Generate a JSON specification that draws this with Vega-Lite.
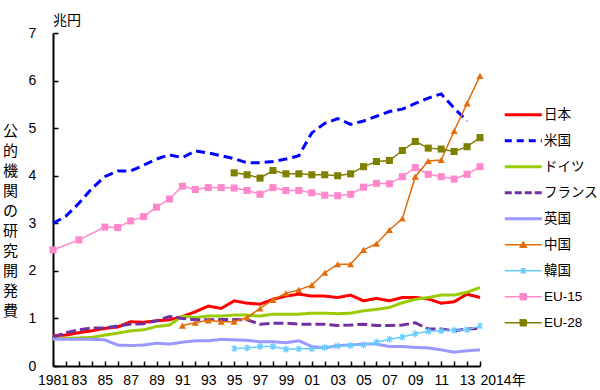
{
  "$schema": "https://vega.github.io/schema/vega-lite/v6.json",
  "width": 427,
  "height": 333,
  "autosize": {"type": "none"},
  "padding": {"left": 53, "top": 33, "right": 120, "bottom": 24},
  "background": "white",
  "config": {"view": {"stroke": null}, "font": "Liberation Sans, Noto Sans CJK JP"},
  "title": {"text": "兆円", "anchor": "start", "frame": "group", "fontSize": 14, "fontWeight": "normal", "font": "Noto Sans CJK JP", "color": "black", "offset": -2},
  "data": {"values": [
    {"year": 1981, "日本": 0.64, "米国": 3.00, "ドイツ": 0.58, "フランス": 0.60, "英国": 0.56, "EU-15": 2.44},
    {"year": 1982, "日本": 0.65, "米国": 3.15, "ドイツ": 0.58, "フランス": 0.70, "英国": 0.56},
    {"year": 1983, "日本": 0.70, "米国": 3.42, "ドイツ": 0.59, "フランス": 0.76, "英国": 0.56, "EU-15": 2.65},
    {"year": 1984, "日本": 0.74, "米国": 3.73, "ドイツ": 0.60, "フランス": 0.80, "英国": 0.56},
    {"year": 1985, "日本": 0.79, "米国": 3.98, "ドイツ": 0.65, "フランス": 0.80, "英国": 0.55, "EU-15": 2.92},
    {"year": 1986, "日本": 0.82, "米国": 4.10, "ドイツ": 0.69, "フランス": 0.84, "英国": 0.44, "EU-15": 2.91},
    {"year": 1987, "日本": 0.93, "米国": 4.10, "ドイツ": 0.74, "フランス": 0.88, "英国": 0.43, "EU-15": 3.05},
    {"year": 1988, "日本": 0.92, "米国": 4.22, "ドイツ": 0.76, "フランス": 0.89, "英国": 0.44, "EU-15": 3.14},
    {"year": 1989, "日本": 0.95, "米国": 4.35, "ドイツ": 0.83, "フランス": 0.95, "英国": 0.48, "EU-15": 3.34},
    {"year": 1990, "日本": 0.97, "米国": 4.44, "ドイツ": 0.86, "フランス": 1.04, "英国": 0.46, "EU-15": 3.51},
    {"year": 1991, "日本": 1.04, "米国": 4.38, "ドイツ": 1.05, "フランス": 1.00, "英国": 0.50, "中国": 0.85, "EU-15": 3.78},
    {"year": 1992, "日本": 1.14, "米国": 4.52, "ドイツ": 1.02, "フランス": 0.97, "英国": 0.53, "中国": 0.91, "EU-15": 3.71},
    {"year": 1993, "日本": 1.26, "米国": 4.48, "ドイツ": 1.05, "フランス": 0.97, "英国": 0.53, "中国": 0.96, "EU-15": 3.75},
    {"year": 1994, "日本": 1.21, "米国": 4.42, "ドイツ": 1.05, "フランス": 0.98, "英国": 0.56, "中国": 0.93, "EU-15": 3.75},
    {"year": 1995, "日本": 1.37, "米国": 4.36, "ドイツ": 1.07, "フランス": 0.98, "英国": 0.55, "中国": 0.93, "韓国": 0.37, "EU-15": 3.74, "EU-28": 4.06},
    {"year": 1996, "日本": 1.32, "米国": 4.27, "ドイツ": 1.07, "フランス": 0.97, "英国": 0.54, "中国": 1.02, "韓国": 0.38, "EU-15": 3.69, "EU-28": 4.02},
    {"year": 1997, "日本": 1.30, "米国": 4.27, "ドイツ": 1.05, "フランス": 0.88, "英国": 0.51, "中国": 1.21, "韓国": 0.41, "EU-15": 3.61, "EU-28": 3.95},
    {"year": 1998, "日本": 1.40, "米国": 4.30, "ドイツ": 1.09, "フランス": 0.90, "英国": 0.51, "中国": 1.39, "韓国": 0.41, "EU-15": 3.75, "EU-28": 4.11},
    {"year": 1999, "日本": 1.47, "米国": 4.35, "ドイツ": 1.09, "フランス": 0.90, "英国": 0.49, "中国": 1.53, "韓国": 0.35, "EU-15": 3.69, "EU-28": 4.04},
    {"year": 2000, "日本": 1.51, "米国": 4.42, "ドイツ": 1.09, "フランス": 0.88, "英国": 0.53, "中国": 1.60, "韓国": 0.36, "EU-15": 3.69, "EU-28": 4.04},
    {"year": 2001, "日本": 1.47, "米国": 4.90, "ドイツ": 1.11, "フランス": 0.88, "英国": 0.41, "中国": 1.70, "韓国": 0.36, "EU-15": 3.64, "EU-28": 4.02},
    {"year": 2002, "日本": 1.47, "米国": 5.10, "ドイツ": 1.11, "フランス": 0.88, "英国": 0.38, "中国": 1.96, "韓国": 0.39, "EU-15": 3.59, "EU-28": 4.02},
    {"year": 2003, "日本": 1.44, "米国": 5.20, "ドイツ": 1.10, "フランス": 0.85, "英国": 0.43, "中国": 2.14, "韓国": 0.42, "EU-15": 3.58, "EU-28": 4.00},
    {"year": 2004, "日本": 1.49, "米国": 5.08, "ドイツ": 1.11, "フランス": 0.86, "英国": 0.44, "中国": 2.14, "韓国": 0.43, "EU-15": 3.61, "EU-28": 4.04},
    {"year": 2005, "日本": 1.37, "米国": 5.15, "ドイツ": 1.16, "フランス": 0.88, "英国": 0.46, "中国": 2.44, "韓国": 0.44, "EU-15": 3.76, "EU-28": 4.19},
    {"year": 2006, "日本": 1.42, "米国": 5.25, "ドイツ": 1.19, "フランス": 0.85, "英国": 0.46, "中国": 2.57, "韓国": 0.50, "EU-15": 3.84, "EU-28": 4.30},
    {"year": 2007, "日本": 1.37, "米国": 5.35, "ドイツ": 1.23, "フランス": 0.85, "英国": 0.41, "中国": 2.86, "韓国": 0.56, "EU-15": 3.83, "EU-28": 4.32},
    {"year": 2008, "日本": 1.44, "米国": 5.40, "ドイツ": 1.33, "フランス": 0.86, "英国": 0.41, "中国": 3.10, "韓国": 0.61, "EU-15": 3.98, "EU-28": 4.53},
    {"year": 2009, "日本": 1.44, "米国": 5.52, "ドイツ": 1.40, "フランス": 0.91, "英国": 0.39, "中国": 3.98, "韓国": 0.68, "EU-15": 4.17, "EU-28": 4.72},
    {"year": 2010, "日本": 1.41, "米国": 5.63, "ドイツ": 1.44, "フランス": 0.78, "英国": 0.38, "中国": 4.31, "韓国": 0.73, "EU-15": 4.03, "EU-28": 4.58},
    {"year": 2011, "日本": 1.32, "米国": 5.72, "ドイツ": 1.49, "フランス": 0.78, "英国": 0.34, "中国": 4.33, "韓国": 0.74, "EU-15": 3.98, "EU-28": 4.56},
    {"year": 2012, "日本": 1.35, "米国": 5.42, "ドイツ": 1.49, "フランス": 0.74, "英国": 0.29, "中国": 4.94, "韓国": 0.75, "EU-15": 3.93, "EU-28": 4.51},
    {"year": 2013, "日本": 1.51, "米国": 5.15, "ドイツ": 1.55, "フランス": 0.78, "英国": 0.32, "中国": 5.52, "韓国": 0.76, "EU-15": 4.03, "EU-28": 4.61},
    {"year": 2014, "日本": 1.44, "ドイツ": 1.65, "フランス": 0.79, "英国": 0.34, "中国": 6.10, "韓国": 0.84, "EU-15": 4.19, "EU-28": 4.80}
  ]},
  "transform": [
    {"fold": ["日本", "米国", "ドイツ", "フランス", "英国", "中国", "韓国", "EU-15", "EU-28"], "as": ["series", "value"]},
    {"filter": "isValid(datum.value)"}
  ],
  "encoding": {
    "x": {"field": "year", "type": "quantitative",
      "scale": {"domain": [1981, 2014], "nice": false, "zero": false},
      "axis": {"title": null, "values": [1981,1982,1983,1984,1985,1986,1987,1988,1989,1990,1991,1992,1993,1994,1995,1996,1997,1998,1999,2000,2001,2002,2003,2004,2005,2006,2007,2008,2009,2010,2011,2012,2013,2014],
        "labelExpr": "datum.value == 2014 ? '2014年' : datum.value == 1981 ? '1981' : (datum.value % 2 == 1 ? substring(toString(datum.value), 2, 4) : '')",
        "labelAlign": {"condition": {"test": "datum.value == 2014", "value": "left"}, "value": "center"},
        "labelOverlap": false, "labelBound": false, "labelFlush": false,
        "labelFontSize": 14, "labelColor": "black", "labelPadding": 12,
        "tickSize": -5, "tickColor": "black", "tickWidth": 1.5,
        "domainColor": "black", "domainWidth": 2, "grid": false}},
    "y": {"field": "value", "type": "quantitative",
      "scale": {"domain": [0, 7], "nice": false},
      "axis": {"values": [0,1,2,3,4,5,6,7], "grid": false,
        "labelFontSize": 14, "labelColor": "black", "labelPadding": 26, "labelAlign": "center",
        "tickSize": -5, "tickColor": "black", "tickWidth": 1.5,
        "domainColor": "black", "domainWidth": 2,
        "title": ["公","的","機","関","の","研","究","開","発","費"],
        "titleAngle": 0, "titleFont": "Noto Sans CJK JP", "titleFontSize": 15, "titleFontWeight": "normal",
        "titleColor": "black", "titleLineHeight": 20, "titleBaseline": "top", "titleAlign": "center",
        "titleX": -43, "titleY": 90}},
    "color": {"field": "series", "type": "nominal",
      "scale": {"domain": ["日本", "米国", "ドイツ", "フランス", "英国", "中国", "韓国", "EU-15", "EU-28"],
        "range": ["#ff0000", "#0000ff", "#99cc00", "#7030a0", "#9999ff", "#e46c0a", "#66ccff", "#ff88cc", "#808000"]},
      "legend": {"orient": "none", "legendX": 450, "legendY": 75, "title": null,
        "labelFont": "Liberation Sans, Noto Sans CJK JP", "labelFontSize": 13.5, "labelColor": "black",
        "symbolSize": 100, "symbolOffset": 13.5, "labelOffset": 14, "rowPadding": 11,
        "encode": {"symbols": {"update": {
          "shape": {"signal": "datum.value === '中国' ? 'M-3.7,0H3.7M-0.6,0.5L0,-0.55L0.6,0.5Z' : datum.value === '韓国' ? 'M-3.7,0H3.7M-0.5,-0.5L0.5,0.5M-0.5,0.5L0.5,-0.5M0,-0.6V0.6' : (datum.value === 'EU-15' || datum.value === 'EU-28') ? 'M-3.7,0H3.7M-0.6,-0.6H0.6V0.6H-0.6Z' : 'M-3.7,0H3.7'"},
          "fill": {"scale": "color", "field": "value"},
          "fillOpacity": {"value": 1},
          "stroke": {"scale": "color", "field": "value"},
          "strokeWidth": {"signal": "indexof(['日本','米国','ドイツ','フランス','英国'], datum.value) >= 0 ? 3 : 1.5"},
          "strokeDash": {"signal": "datum.value === '米国' ? [7,5] : datum.value === 'フランス' ? [7,3] : [1,0]"}
        }}}}}
  },
  "layer": [
    {"transform": [{"filter": {"field": "series", "oneOf": ["日本", "米国", "ドイツ", "フランス", "英国"]}}],
     "mark": {"type": "line", "strokeWidth": 3},
     "encoding": {"strokeDash": {"field": "series", "type": "nominal", "legend": null,
        "scale": {"domain": ["日本", "米国", "ドイツ", "フランス", "英国"], "range": [[1,0],[9,5],[1,0],[10,4],[1,0]]}}}},
    {"transform": [{"filter": {"field": "series", "oneOf": ["中国", "韓国", "EU-15", "EU-28"]}}],
     "mark": {"type": "line", "strokeWidth": 1.5},
     "encoding": {}},
    {"transform": [{"filter": {"field": "series", "oneOf": ["中国", "EU-15", "EU-28"]}}],
     "mark": {"type": "point", "filled": true, "opacity": 1, "size": 50},
     "encoding": {"shape": {"field": "series", "type": "nominal", "legend": null,
        "scale": {"domain": ["中国", "EU-15", "EU-28"], "range": ["triangle-up", "square", "square"]}}}},
    {"transform": [{"filter": {"field": "series", "equal": "韓国"}}],
     "mark": {"type": "point", "filled": false, "opacity": 1, "size": 40, "strokeWidth": 1.3,
       "shape": "M-0.8,-0.8L0.8,0.8M-0.8,0.8L0.8,-0.8M0,-1.1V1.1"},
     "encoding": {}}
  ]
}
